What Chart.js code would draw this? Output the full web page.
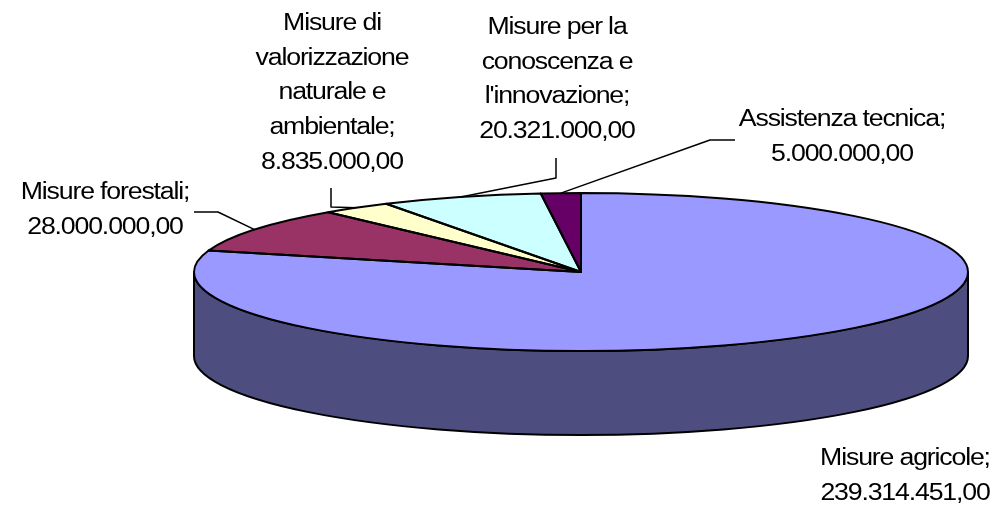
<!DOCTYPE html>
<html>
<head>
<meta charset="utf-8">
<style>html,body{margin:0;padding:0;background:#fff}canvas{display:block}</style>
<script src="https://cdn.jsdelivr.net/npm/chart.js@4/dist/chart.umd.min.js"></script>
</head>
<body>
<canvas id="c" width="1000" height="505" style="width:1000px;height:505px"></canvas>
<script>
const categories = ['Misure agricole','Misure forestali','Misure di valorizzazione naturale e ambientale',"Misure per la conoscenza e l'innovazione",'Assistenza tecnica'];
const values = [239314451, 28000000, 8835000, 20321000, 5000000];
const valueLabels = ['239.314.451,00','28.000.000,00','8.835.000,00','20.321.000,00','5.000.000,00'];
const sliceColors = ['#9999FF','#993366','#FFFFCC','#CCFFFF','#660066'];
const labelLines = [
  ['Misure agricole;'],
  ['Misure forestali;'],
  ['Misure di','valorizzazione','naturale e','ambientale;'],
  ['Misure per la','conoscenza e',"l'innovazione;"],
  ['Assistenza tecnica;']
];
// label placement: centre x, first baseline y
const labelPos = [[905,465],[105,199],[332,30],[557,34],[842,126]];
// leader elbows (from the label towards the slice)
const leaderElbows = [[],[[194,212],[218,212]],[[331,188],[331,207]],[[556,158],[556,178]],[[735,140],[710,140]]];
const LINE_H = 34.7, RX = 387, RY = 79, DEPTH = 84, WALL = '#4D4D7F', TEXT_STRETCH = 1.16;

const pie3d = {
  id:'pie3d',
  beforeDatasetsDraw(chart){
    const arcs = chart.getDatasetMeta(0).data, a0 = arcs[0], ctx = chart.ctx;
    const cx = a0.x, cy = a0.y, r = a0.outerRadius;
    ctx.save();
    ctx.beginPath();
    ctx.ellipse(cx,cy+DEPTH,RX,RY,0,Math.PI,0,true);
    ctx.lineTo(cx+RX,cy);
    ctx.ellipse(cx,cy,RX,RY,0,0,Math.PI,false);
    ctx.closePath();
    ctx.fillStyle = WALL; ctx.fill();
    ctx.strokeStyle = '#000'; ctx.lineWidth = 2; ctx.stroke();
    ctx.restore();
    ctx.save();
    ctx.translate(cx,cy); ctx.scale(RX/r,RY/r); ctx.translate(-cx,-cy);
  },
  afterDatasetsDraw(chart){
    const ctx = chart.ctx, arcs = chart.getDatasetMeta(0).data;
    ctx.restore();
    ctx.save();
    ctx.strokeStyle = '#000'; ctx.lineWidth = 2; ctx.lineJoin = 'round';
    arcs.forEach(a=>{
      ctx.beginPath();
      ctx.moveTo(a.x,a.y);
      ctx.ellipse(a.x,a.y,RX,RY,0,a.startAngle,a.endAngle,false);
      ctx.closePath();
      ctx.stroke();
    });
    // leader lines
    ctx.lineWidth = 1.5;
    arcs.forEach((a,i)=>{
      if(!leaderElbows[i].length) return;
      const m = (a.startAngle+a.endAngle)/2;
      ctx.beginPath();
      leaderElbows[i].forEach((p,k)=> k?ctx.lineTo(p[0],p[1]):ctx.moveTo(p[0],p[1]));
      ctx.lineTo(a.x+RX*Math.cos(m), a.y+RY*Math.sin(m));
      ctx.stroke();
    });
    // labels
    ctx.fillStyle = '#000';
    ctx.font = '23px "Liberation Sans"';
    ctx.letterSpacing = '-1px';
    ctx.textAlign = 'center'; ctx.textBaseline = 'alphabetic';
    categories.forEach((_,i)=>{
      const lines = labelLines[i].concat([valueLabels[i]]);
      lines.forEach((t,k)=>{
        ctx.save();
        ctx.translate(labelPos[i][0],labelPos[i][1]+k*LINE_H);
        ctx.scale(TEXT_STRETCH,1);
        ctx.fillText(t,0,0);
        ctx.restore();
      });
    });
    ctx.restore();
  }
};

new Chart(document.getElementById('c'),{
  type:'pie',
  data:{labels:categories,datasets:[{data:values,backgroundColor:sliceColors,borderWidth:0,hoverOffset:0}]},
  options:{
    responsive:false,animation:false,
    layout:{padding:{left:162,top:39}},
    plugins:{legend:{display:false},tooltip:{enabled:false}}
  },
  plugins:[pie3d]
});
</script>
</body>
</html>
